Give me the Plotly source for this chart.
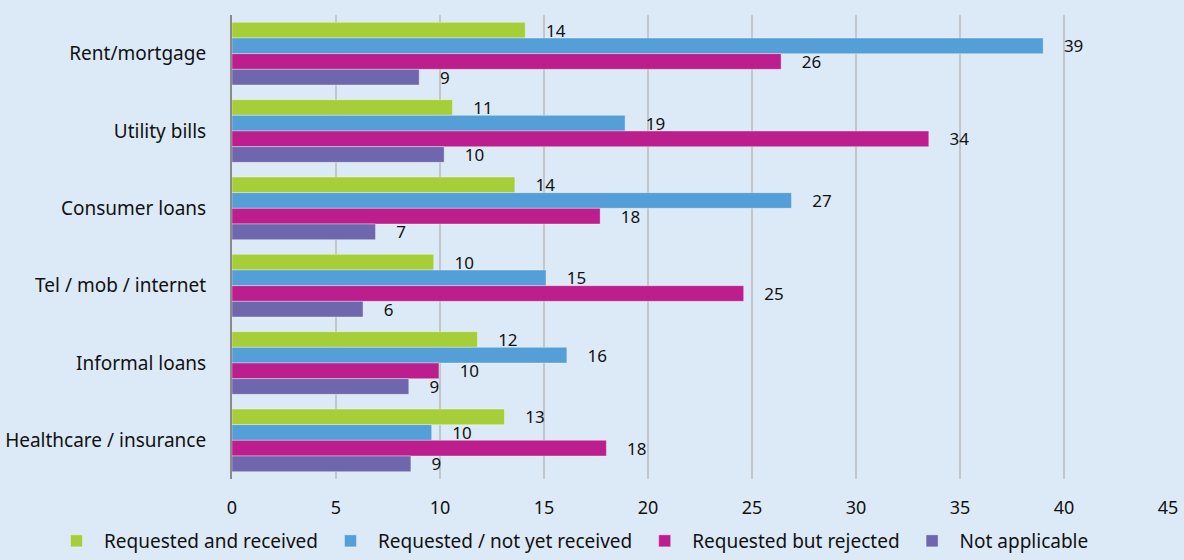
import plotly.graph_objects as go

categories = ["Rent/mortgage", "Utility bills", "Consumer loans", "Tel / mob / internet",
              "Informal loans", "Healthcare / insurance"]
series_names = ["Requested and received", "Requested / not yet received",
                "Requested but rejected", "Not applicable"]
received = [14.1, 10.6, 13.6, 9.7, 11.8, 13.1]
not_yet = [39.0, 18.9, 26.9, 15.1, 16.1, 9.6]
rejected = [26.4, 33.5, 17.7, 24.6, 9.95, 18.0]
not_applicable = [9.0, 10.2, 6.9, 6.3, 8.5, 8.6]
labels_received = [14, 11, 14, 10, 12, 13]
labels_not_yet = [39, 19, 27, 15, 16, 10]
labels_rejected = [26, 34, 18, 25, 10, 18]
labels_na = [9, 10, 7, 6, 9, 9]
x_ticks = [0, 5, 10, 15, 20, 25, 30, 35, 40, 45]

colors = ["#a6ce39", "#559fd8", "#bc1f8d", "#6e67ae"]
values = [received, not_yet, rejected, not_applicable]
labels = [labels_received, labels_not_yet, labels_rejected, labels_na]

FONT = "Noto Sans"
fig = go.Figure()
nb = "\u00a0" * 4
for name, vals, labs, col in zip(series_names, values, labels, colors):
    fig.add_trace(go.Bar(
        y=categories, x=vals, name=name, orientation="h",
        marker=dict(color=col, line=dict(color="rgba(255,255,255,0.35)", width=1)),
        text=[nb + str(l) for l in labs], textposition="outside",
        textfont=dict(family=FONT, size=17, color="#111111"),
        constraintext="none", cliponaxis=False,
    ))

W, H = 1184, 560
L, R, T, B = 232, 16, 15, 81
plot_w = W - L - R
plot_h = H - T - B
fig.update_layout(
    width=W, height=H,
    paper_bgcolor="#dceaf7", plot_bgcolor="#dceaf7",
    barmode="group", bargap=0.19, bargroupgap=0,
    margin=dict(l=L, r=R, t=T, b=B, autoexpand=False),
    font=dict(family=FONT, size=18, color="#111111"),
    showlegend=True,
    legend=dict(orientation="h", x=(49 - L) / plot_w, xanchor="left",
                y=-B / plot_h, yanchor="bottom", bgcolor="rgba(0,0,0,0)",
                font=dict(family=FONT, size=19, color="#111111"),
                traceorder="normal", itemwidth=45),
)
fig.update_xaxes(range=[0, 45], tickvals=x_ticks, showgrid=True, gridcolor="#c3c6c9",
                 gridwidth=1.5, zeroline=False, showline=False, ticks="", automargin=False,
                 tickfont=dict(family=FONT, size=18, color="#111111"), ticklabelstandoff=16)
fig.update_yaxes(autorange="reversed", showline=True, linecolor="#8a8a8a", linewidth=2,
                 ticks="", ticklabelstandoff=20, automargin=False,
                 tickfont=dict(family=FONT, size=19, color="#111111"))

fig.write_html("out.html", config={"displayModeBar": False},
               post_script="document.body.style.margin='0';")
